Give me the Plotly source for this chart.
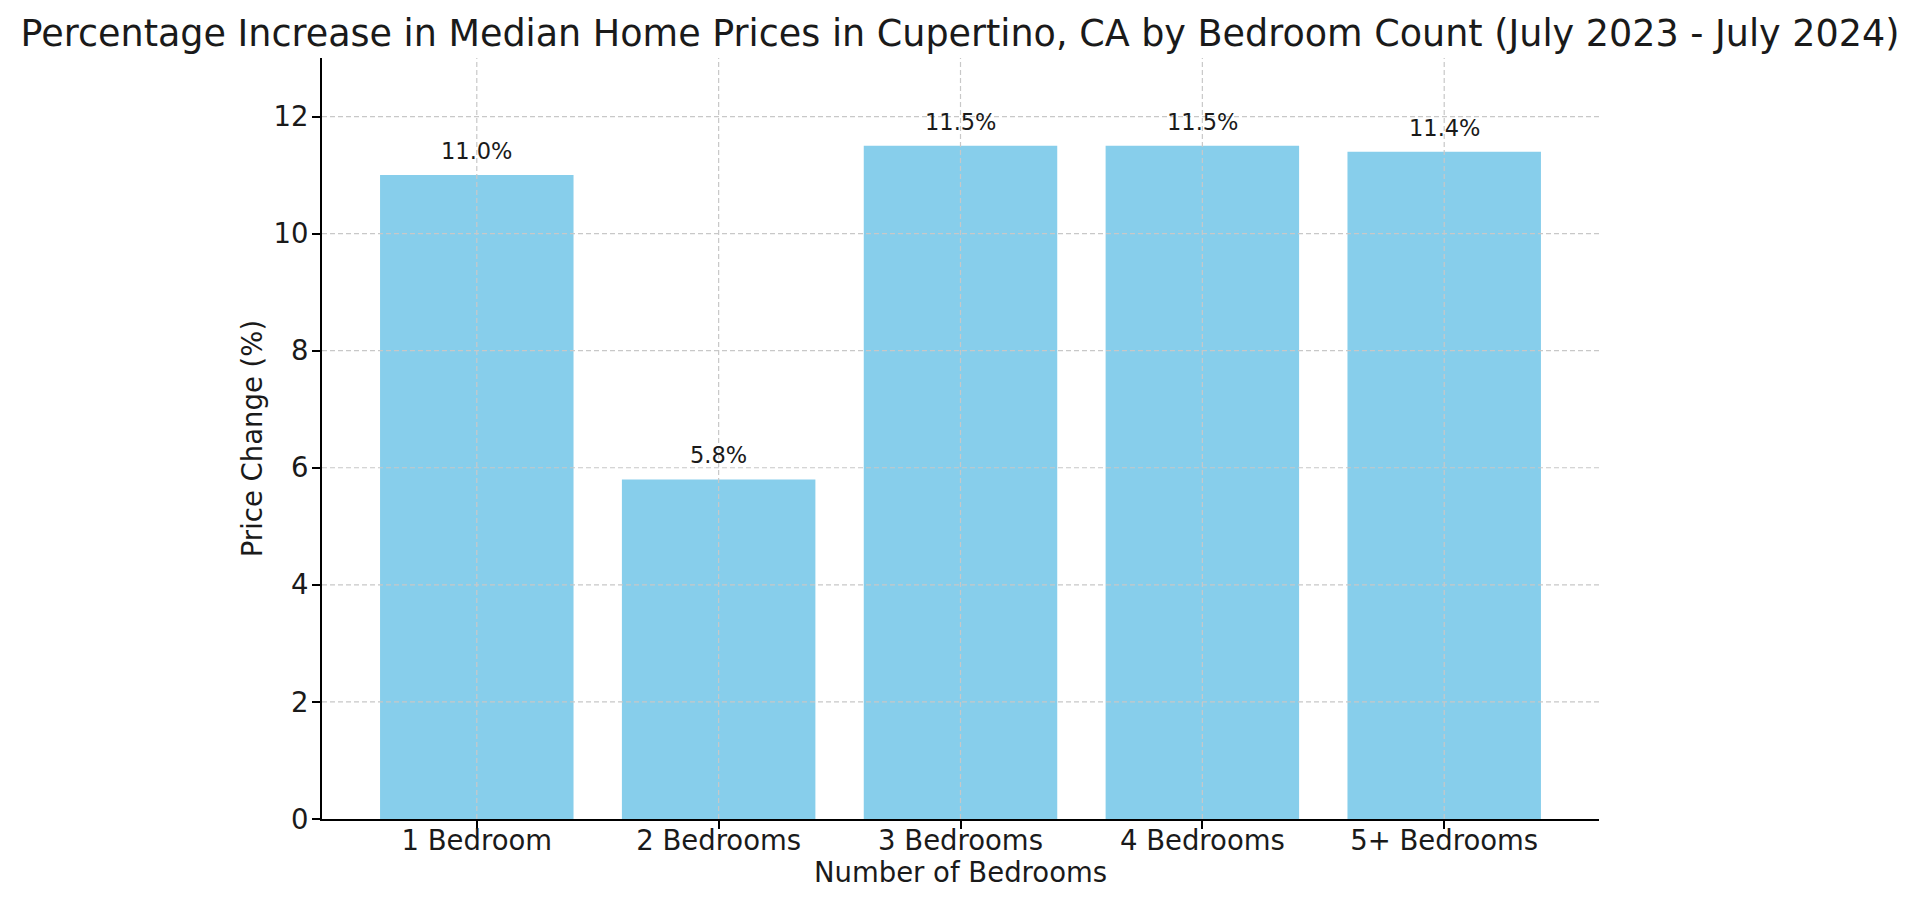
import plotly.graph_objects as go

categories = ["1 Bedroom", "2 Bedrooms", "3 Bedrooms", "4 Bedrooms", "5+ Bedrooms"]
price_change = [11.0, 5.8, 11.5, 11.5, 11.4]
y_ticks = [0, 2, 4, 6, 8, 10, 12]

FONT = "DejaVu Sans"
TXT = "#1a1a1a"
GRID = "#c8c8c8"

fig = go.Figure()
fig.add_trace(go.Bar(
    x=categories, y=price_change,
    marker=dict(color="#87CEEB", line=dict(width=0)),
    width=0.8, hoverinfo="x+y",
))

# value labels above bars
for c, v in zip(categories, price_change):
    fig.add_annotation(x=c, y=v, text=f"{v:.1f}%", showarrow=False,
                       yanchor="bottom", yshift=9,
                       font=dict(family=FONT, size=22.5, color=TXT))

# gridlines drawn above bars (as in the reference)
shapes = []
for t in y_ticks[1:]:
    shapes.append(dict(type="line", xref="paper", yref="y", x0=0, x1=1, y0=t, y1=t,
                       line=dict(color=GRID, width=1.2, dash="5px,3px"), layer="above"))
for c in categories:
    shapes.append(dict(type="line", xref="x", yref="paper", x0=c, x1=c, y0=0, y1=1,
                       line=dict(color=GRID, width=1.2, dash="5px,3px"), layer="above"))
fig.update_layout(shapes=shapes)

fig.update_layout(
    width=1920, height=907,
    paper_bgcolor="white", plot_bgcolor="white",
    margin=dict(l=314, r=329, t=50, b=96),
    showlegend=False,
    title=dict(text="Percentage Increase in Median Home Prices in Cupertino, CA by Bedroom Count (July 2023 - July 2024)",
               x=(960 - 8) / 1920, xanchor="center", y=1 - 25 / 907, yanchor="middle",
               font=dict(family=FONT, size=36.5, color=TXT)),
    font=dict(family=FONT, color=TXT),
)
fig.update_xaxes(
    range=[-0.64, 4.64], showgrid=False, zeroline=False,
    showline=True, linecolor="black", linewidth=2,
    ticks="outside", ticklen=8, tickwidth=1.5, tickcolor="black",
    ticklabelstandoff=-12,
    tickfont=dict(family=FONT, size=27.5, color=TXT),
    title=dict(text="Number of Bedrooms", font=dict(family=FONT, size=27.5, color=TXT), standoff=4),
)
fig.update_yaxes(
    range=[0, 13], tickvals=y_ticks, showgrid=False, zeroline=False,
    showline=True, linecolor="black", linewidth=2,
    ticks="outside", ticklen=8, tickwidth=1.5, tickcolor="black",
    ticklabelstandoff=-2,
    tickfont=dict(family=FONT, size=27.5, color=TXT),
    title=dict(text="Price Change (%)", font=dict(family=FONT, size=27.5, color=TXT), standoff=3),
)

fig.write_html("out.html")
